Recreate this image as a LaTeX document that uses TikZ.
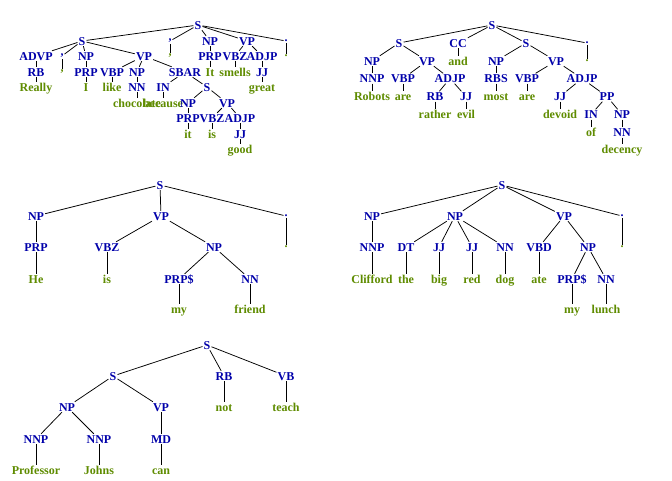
\documentclass[tikz,border=0pt]{standalone}
\usepackage{fontspec}
\setmainfont{Liberation Serif}
\definecolor{labc}{RGB}{0,0,170}
\definecolor{wdc}{RGB}{95,140,0}
\newcommand\treefont{\bfseries\fontsize{12}{14}\selectfont}
\tikzset{
  lab/.style={font=\treefont, text=labc, inner sep=1pt, text height=8pt, text depth=0pt},
  wd/.style={font=\treefont, text=wdc, inner sep=1pt, text height=8pt, text depth=0pt},
  pl/.style={font=\treefont, text=labc, inner sep=0.8pt, text height=1.6pt, text depth=0pt},
  pw/.style={font=\treefont, text=wdc, inner sep=0.8pt, text height=1.6pt, text depth=0pt},
  plc/.style={font=\treefont, text=labc, inner sep=0.8pt, text height=1.6pt, text depth=2.4pt},
  pwc/.style={font=\treefont, text=wdc, inner sep=0.8pt, text height=1.6pt, text depth=2.4pt},
  edge/.style={draw=black, line width=0.75pt}
}
\begin{document}
\begin{tikzpicture}[x=1pt,y=-1pt]
\useasboundingbox[fill=white] (0,0) rectangle (672,480);
% ---------- Tree 1 ----------
\node[lab] (t1a) at (198,25) {S};
\node[lab] (t1b) at (82,41) {S};
\node[plc] (t1c) at (170,41) {,};
\node[pwc] (t1cw) at (170,56) {,};
\node[lab] (t1d) at (210,41) {NP};
\node[lab] (t1e) at (210,56) {PRP};
\node[wd] (t1f) at (210,72) {It};
\node[lab] (t1g) at (247,41) {VP};
\node[lab] (t1h) at (235,56) {VBZ};
\node[wd] (t1i) at (235,72) {smells};
\node[lab] (t1j) at (262,56) {ADJP};
\node[lab] (t1k) at (262,72) {JJ};
\node[wd] (t1l) at (262,87) {great};
\node[pl] (t1m) at (286,41) {.};
\node[pw] (t1mw) at (286,56) {.};
\node[lab] (t1n) at (36,56) {ADVP};
\node[lab] (t1o) at (36,72) {RB};
\node[wd] (t1p) at (36,87) {Really};
\node[plc] (t1q) at (62,56) {,};
\node[pwc] (t1qw) at (62,72) {,};
\node[lab] (t1r) at (86,56) {NP};
\node[lab] (t1s) at (86,72) {PRP};
\node[wd] (t1t) at (86,87) {I};
\node[lab] (t1u) at (144,56) {VP};
\node[lab] (t1v) at (112,72) {VBP};
\node[wd] (t1w) at (112,87) {like};
\node[lab] (t1x) at (137,72) {NP};
\node[lab] (t1y) at (137,87) {NN};
\node[wd] (t1z) at (137,103) {chocolate};
\node[lab] (t1aa) at (185,72) {SBAR};
\node[lab] (t1ab) at (163,87) {IN};
\node[wd] (t1ac) at (163,103) {because};
\node[lab] (t1ad) at (207,87) {S};
\node[lab] (t1ae) at (188,103) {NP};
\node[lab] (t1af) at (188,118) {PRP};
\node[wd] (t1ag) at (188,134) {it};
\node[lab] (t1ah) at (227,103) {VP};
\node[lab] (t1ai) at (212,118) {VBZ};
\node[wd] (t1aj) at (212,134) {is};
\node[lab] (t1ak) at (240,118) {ADJP};
\node[lab] (t1al) at (240,134) {JJ};
\node[wd] (t1am) at (240,149) {good};
\foreach \p/\c in {t1a/t1b,t1a/t1c,t1c/t1cw,t1a/t1d,t1d/t1e,t1e/t1f,t1a/t1g,t1g/t1h,t1h/t1i,t1g/t1j,t1j/t1k,t1k/t1l,t1a/t1m,t1m/t1mw,
  t1b/t1n,t1n/t1o,t1o/t1p,t1b/t1q,t1q/t1qw,t1b/t1r,t1r/t1s,t1s/t1t,t1b/t1u,t1u/t1v,t1v/t1w,t1u/t1x,t1x/t1y,t1y/t1z,t1u/t1aa,
  t1aa/t1ab,t1ab/t1ac,t1aa/t1ad,t1ad/t1ae,t1ae/t1af,t1af/t1ag,t1ad/t1ah,t1ah/t1ai,t1ai/t1aj,t1ah/t1ak,t1ak/t1al,t1al/t1am}
  \draw[edge] (\p) -- (\c);
% ---------- Tree 2 ----------
\node[lab] (t2a) at (492,25) {S};
\node[lab] (t2b) at (399,43) {S};
\node[lab] (t2c) at (458,43) {CC};
\node[wd] (t2cw) at (458,61) {and};
\node[lab] (t2d) at (526,43) {S};
\node[pl] (t2e) at (587,43) {.};
\node[pw] (t2ew) at (587,61) {.};
\node[lab] (t2f) at (372,61) {NP};
\node[lab] (t2g) at (372,78.5) {NNP};
\node[wd] (t2h) at (372,96.5) {Robots};
\node[lab] (t2i) at (427,61) {VP};
\node[lab] (t2j) at (403,78.5) {VBP};
\node[wd] (t2k) at (403,96.5) {are};
\node[lab] (t2l) at (450,78.5) {ADJP};
\node[lab] (t2m) at (435,96.5) {RB};
\node[wd] (t2n) at (435,114.5) {rather};
\node[lab] (t2o) at (466,96.5) {JJ};
\node[wd] (t2p) at (466,114.5) {evil};
\node[lab] (t2q) at (496,61) {NP};
\node[lab] (t2r) at (496,78.5) {RBS};
\node[wd] (t2s) at (496,96.5) {most};
\node[lab] (t2t) at (556,61) {VP};
\node[lab] (t2u) at (527,78.5) {VBP};
\node[wd] (t2v) at (527,96.5) {are};
\node[lab] (t2w) at (582,78.5) {ADJP};
\node[lab] (t2x) at (560,96.5) {JJ};
\node[wd] (t2y) at (560,114.5) {devoid};
\node[lab] (t2z) at (607,96.5) {PP};
\node[lab] (t2aa) at (591,114.5) {IN};
\node[wd] (t2ab) at (591,132.5) {of};
\node[lab] (t2ac) at (622,114.5) {NP};
\node[lab] (t2ad) at (622,132.5) {NN};
\node[wd] (t2ae) at (622,149.5) {decency};
\foreach \p/\c in {t2a/t2b,t2a/t2c,t2c/t2cw,t2a/t2d,t2a/t2e,t2e/t2ew,t2b/t2f,t2f/t2g,t2g/t2h,t2b/t2i,t2i/t2j,t2j/t2k,t2i/t2l,
  t2l/t2m,t2m/t2n,t2l/t2o,t2o/t2p,t2d/t2q,t2q/t2r,t2r/t2s,t2d/t2t,t2t/t2u,t2u/t2v,t2t/t2w,t2w/t2x,t2x/t2y,t2w/t2z,
  t2z/t2aa,t2aa/t2ab,t2z/t2ac,t2ac/t2ad,t2ad/t2ae}
  \draw[edge] (\p) -- (\c);
% ---------- Tree 3 ----------
\node[lab] (t3a) at (160,185) {S};
\node[lab] (t3b) at (36,216) {NP};
\node[lab] (t3c) at (36,247) {PRP};
\node[wd] (t3d) at (36,279) {He};
\node[lab] (t3e) at (161,216) {VP};
\node[lab] (t3f) at (107,247) {VBZ};
\node[wd] (t3g) at (107,279) {is};
\node[lab] (t3h) at (214,247) {NP};
\node[lab] (t3i) at (179,279) {PRP\$};
\node[wd] (t3j) at (179,309) {my};
\node[lab] (t3k) at (250,279) {NN};
\node[wd] (t3l) at (250,309) {friend};
\node[pl] (t3m) at (286,216) {.};
\node[pw] (t3mw) at (286,247) {.};
\foreach \p/\c in {t3a/t3b,t3b/t3c,t3c/t3d,t3a/t3e,t3e/t3f,t3f/t3g,t3e/t3h,t3h/t3i,t3i/t3j,t3h/t3k,t3k/t3l,t3a/t3m,t3m/t3mw}
  \draw[edge] (\p) -- (\c);
% ---------- Tree 4 ----------
\node[lab] (t4a) at (502,185) {S};
\node[lab] (t4b) at (372,216) {NP};
\node[lab] (t4c) at (372,247) {NNP};
\node[wd] (t4d) at (372,279) {Clifford};
\node[lab] (t4e) at (455,216) {NP};
\node[lab] (t4f) at (406,247) {DT};
\node[wd] (t4g) at (406,279) {the};
\node[lab] (t4h) at (439,247) {JJ};
\node[wd] (t4i) at (439,279) {big};
\node[lab] (t4j) at (472,247) {JJ};
\node[wd] (t4k) at (472,279) {red};
\node[lab] (t4l) at (505,247) {NN};
\node[wd] (t4m) at (505,279) {dog};
\node[lab] (t4n) at (564,216) {VP};
\node[lab] (t4o) at (539,247) {VBD};
\node[wd] (t4p) at (539,279) {ate};
\node[lab] (t4q) at (588,247) {NP};
\node[lab] (t4r) at (572,279) {PRP\$};
\node[wd] (t4s) at (572,309) {my};
\node[lab] (t4t) at (606,279) {NN};
\node[wd] (t4u) at (606,309) {lunch};
\node[pl] (t4v) at (622,216) {.};
\node[pw] (t4vw) at (622,247) {.};
\foreach \p/\c in {t4a/t4b,t4b/t4c,t4c/t4d,t4a/t4e,t4e/t4f,t4f/t4g,t4e/t4h,t4h/t4i,t4e/t4j,t4j/t4k,t4e/t4l,t4l/t4m,
  t4a/t4n,t4n/t4o,t4o/t4p,t4n/t4q,t4q/t4r,t4r/t4s,t4q/t4t,t4t/t4u,t4a/t4v,t4v/t4vw}
  \draw[edge] (\p) -- (\c);
% ---------- Tree 5 ----------
\node[lab] (t5a) at (207,345) {S};
\node[lab] (t5b) at (113,376) {S};
\node[lab] (t5c) at (67,407) {NP};
\node[lab] (t5d) at (36,439) {NNP};
\node[wd] (t5e) at (36,470) {Professor};
\node[lab] (t5f) at (99,439) {NNP};
\node[wd] (t5g) at (99,470) {Johns};
\node[lab] (t5h) at (161,407) {VP};
\node[lab] (t5i) at (161,439) {MD};
\node[wd] (t5j) at (161,470) {can};
\node[lab] (t5k) at (224,376) {RB};
\node[wd] (t5l) at (224,407) {not};
\node[lab] (t5m) at (286,376) {VB};
\node[wd] (t5n) at (286,407) {teach};
\foreach \p/\c in {t5a/t5b,t5b/t5c,t5c/t5d,t5d/t5e,t5c/t5f,t5f/t5g,t5b/t5h,t5h/t5i,t5i/t5j,t5a/t5k,t5k/t5l,t5a/t5m,t5m/t5n}
  \draw[edge] (\p) -- (\c);
\end{tikzpicture}
\end{document}
